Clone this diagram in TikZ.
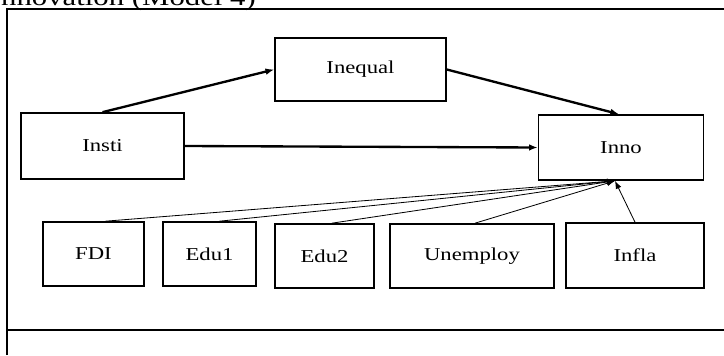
\documentclass[tikz,border=0pt]{standalone}
\usepackage{fontspec}
\setmainfont[FakeStretch=1.25]{Liberation Serif}
\usepackage{tikz}
\usetikzlibrary{arrows.meta,positioning}
\tikzset{
  varbox/.style={draw=black,line width=1.4pt,minimum height=1.92cm,align=center,inner sep=2pt,
    font=\fontsize{15.5}{18}\selectfont,fill=white},
  mainpath/.style={-{Latex[length=2.6mm,width=2mm]},line width=2pt},
  ctrlpath/.style={-{Latex[length=2.4mm,width=1.8mm]},line width=0.7pt},
  framerule/.style={line width=2.3pt}
}
\begin{document}
\begin{tikzpicture}[x=0.03cm,y=-0.03cm]
  \useasboundingbox (0,0) rectangle (724,355);
  % caption cut by the page top
  \node[anchor=base east,inner sep=0pt,font=\fontsize{21}{24}\selectfont] (cap) at (256,5) {Innovation (Model 4)};
  \draw[framerule] (7,355) -- (7,9) -- (724,9);
  \draw[line width=1.7pt] (7,330) -- (724,330);
  % model variables
  \node[varbox,minimum width=4.89cm,minimum height=1.98cm] (insti) at (102.5,146) {Insti};
  \node[varbox,minimum width=5.13cm,minimum height=1.89cm] (inequal) at (360.5,69.5) {Inequal};
  \node[varbox,minimum width=4.95cm,minimum height=1.95cm] (inno) at (621,147.5) {Inno};
  % controls
  \node[varbox,minimum width=3.03cm] (fdi) at (93.5,254) {FDI};
  \node[varbox,minimum width=2.79cm] (edu1) at (209.5,254) {Edu1};
  \node[varbox,minimum width=2.97cm] (edu2) at (324.5,256) {Edu2};
  \node[varbox,minimum width=4.92cm] (unemp) at (472,256) {Unemploy};
  \node[varbox,minimum width=4.14cm,minimum height=1.95cm] (infla) at (635,255.5) {Infla};
  \coordinate (hub) at ([xshift=-0.18cm]inno.south);
  \draw[mainpath] (insti.north) -- (inequal.west);
  \draw[mainpath] (inequal.east) -- ([xshift=-0.06cm]inno.north);
  \draw[mainpath] (insti.east) -- (inno.west);
  \draw[ctrlpath] ([xshift=0.36cm]fdi.north) -- (hub);
  \draw[ctrlpath] ([xshift=0.3cm]edu1.north) -- (hub);
  \draw[ctrlpath] ([xshift=0.22cm]edu2.north) -- (hub);
  \draw[ctrlpath] ([xshift=0.09cm]unemp.north) -- (hub);
  \draw[ctrlpath] (infla.north) -- (hub);
\end{tikzpicture}
\end{document}
